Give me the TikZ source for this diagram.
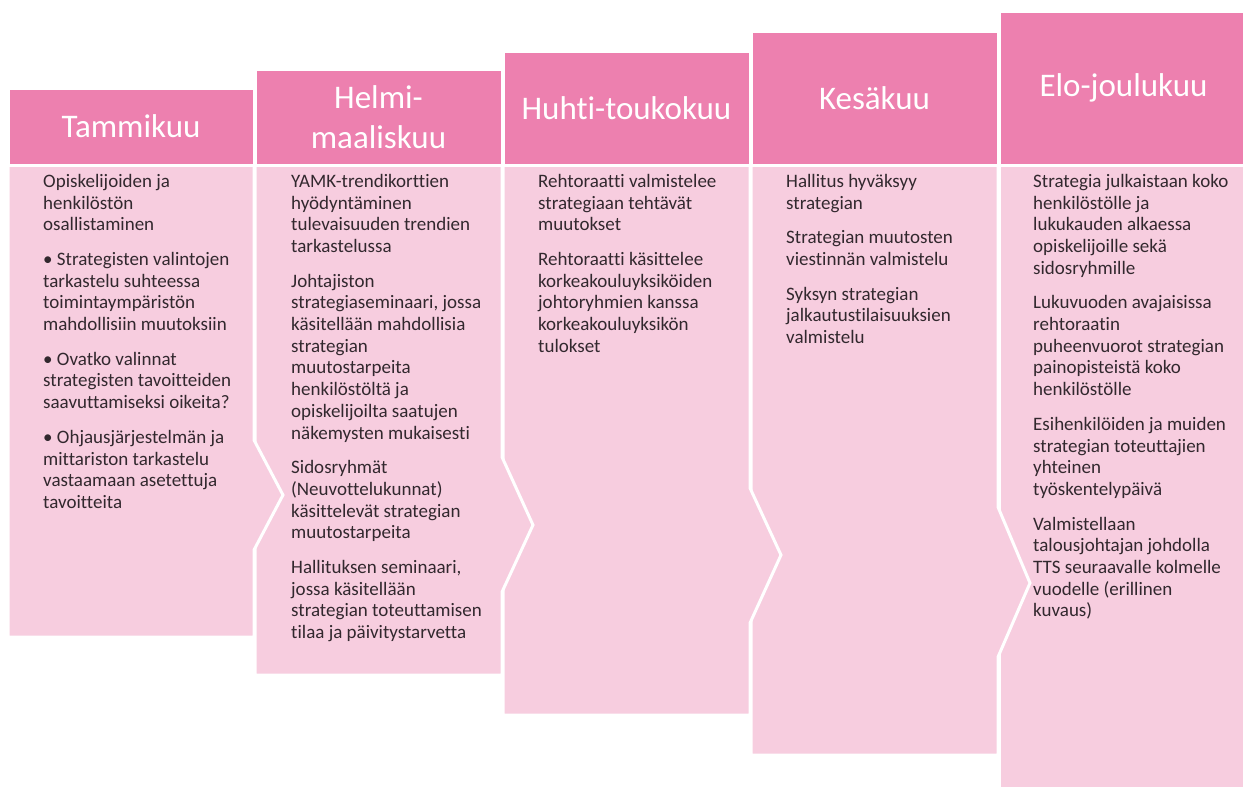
\documentclass[tikz,border=0pt]{standalone}
\usepackage{fontspec}
\setmainfont{Carlito}[Ligatures=NoCommon]
\definecolor{hdrpink}{RGB}{237,128,175}
\definecolor{bodypink}{RGB}{247,205,223}
\definecolor{txtgray}{RGB}{50,40,46}

\begin{document}
\begin{tikzpicture}[x=1pt,y=-1pt,
    head/.style={rectangle,fill=hdrpink,draw=white,line width=3pt,text=white,
      font=\fontsize{33}{40}\selectfont,align=center,inner sep=0pt},
    body/.style={fill=bodypink,draw=white,line width=3pt},
    note/.style={anchor=north west,inner sep=0pt,align=left,text=txtgray,
      font=\fontsize{19}{21.7}\selectfont}]
  \useasboundingbox[fill=white] (0,0) rectangle (1243,787);
  \path[body] (999,165) -- (1248,165) -- (1248,792) -- (999,792) -- cycle;
  \path[body] (751,165) -- (998,165) -- (998,507) -- (1030,583) -- (998,657)
    -- (998,755) -- (751,755) -- cycle;
  \path[body] (503,165) -- (750,165) -- (750,488) -- (781,555) -- (750,623)
    -- (750,715) -- (503,715) -- cycle;
  \path[body] (255,165) -- (502,165) -- (502,457) -- (533,525) -- (502,592)
    -- (502,675) -- (255,675) -- cycle;
  \path[body] (8,165) -- (254,165) -- (254,440) -- (283,495) -- (254,550)
    -- (254,637) -- (8,637) -- cycle;
  \node[head,minimum width=246pt,minimum height=77pt] (tammi) at (131,126.5) {Tammikuu};
  \node[head,minimum width=247pt,minimum height=96pt] (helmi) at (378.5,117) {Helmi-\\maaliskuu};
  \node[head,minimum width=247pt,minimum height=114pt] (huhti) at (626.5,108) {Huhti-toukokuu};
  \node[head,minimum width=247pt,minimum height=134pt] (kesa) at (874.5,98) {Kesäkuu};
  \node[head,minimum width=249pt,minimum height=154pt] (elo) at (1123.5,88) {Elo-joulukuu};
  \node[note] (tammitxt) at (43,174) {Opiskelijoiden ja\\henkilöstön\\osallistaminen\\[13pt]
    • Strategisten valintojen\\tarkastelu suhteessa\\toimintaympäristön\\mahdollisiin muutoksiin\\[13pt]
    • Ovatko valinnat\\strategisten tavoitteiden\\saavuttamiseksi oikeita?\\[13pt]
    • Ohjausjärjestelmän ja\\mittariston tarkastelu\\vastaamaan asetettuja\\tavoitteita};
  \node[note] (helmitxt) at (291,174) {YAMK-trendikorttien\\hyödyntäminen\\tulevaisuuden trendien\\tarkastelussa\\[13pt]
    Johtajiston\\strategiaseminaari, jossa\\käsitellään mahdollisia\\strategian\\muutostarpeita\\henkilöstöltä ja\\opiskelijoilta saatujen\\näkemysten mukaisesti\\[13pt]
    Sidosryhmät\\(Neuvottelukunnat)\\käsittelevät strategian\\muutostarpeita\\[13pt]
    Hallituksen seminaari,\\jossa käsitellään\\strategian toteuttamisen\\tilaa ja päivitystarvetta};
  \node[note] (huhtitxt) at (538,174) {Rehtoraatti valmistelee\\strategiaan tehtävät\\muutokset\\[13pt]
    Rehtoraatti käsittelee\\korkeakouluyksiköiden\\johtoryhmien kanssa\\korkeakouluyksikön\\tulokset};
  \node[note] (kesatxt) at (786,174) {Hallitus hyväksyy\\strategian\\[13pt]
    Strategian muutosten\\viestinnän valmistelu\\[13pt]
    Syksyn strategian\\jalkautustilaisuuksien\\valmistelu};
  \node[note] (elotxt) at (1033,174) {Strategia julkaistaan koko\\henkilöstölle ja\\lukukauden alkaessa\\opiskelijoille sekä\\sidosryhmille\\[13pt]
    Lukuvuoden avajaisissa\\rehtoraatin\\puheenvuorot strategian\\painopisteistä koko\\henkilöstölle\\[13pt]
    Esihenkilöiden ja muiden\\strategian toteuttajien\\yhteinen\\työskentelypäivä\\[13pt]
    Valmistellaan\\talousjohtajan johdolla\\TTS seuraavalle kolmelle\\vuodelle (erillinen\\kuvaus)};
\end{tikzpicture}
\end{document}
